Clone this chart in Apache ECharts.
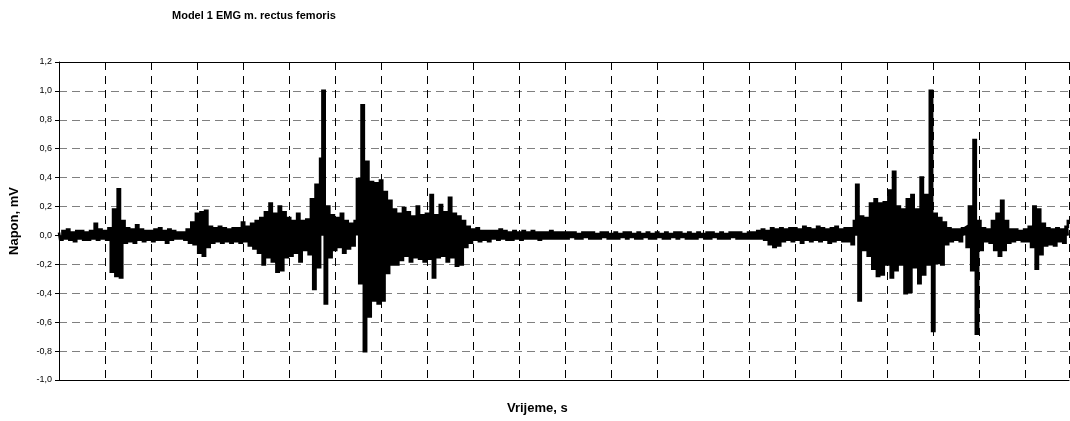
<!DOCTYPE html>
<html>
<head>
<meta charset="utf-8">
<script src="https://cdn.jsdelivr.net/npm/echarts@6/dist/echarts.min.js"></script>
<style>
html, body { margin: 0; padding: 0; background: #fff; }
#emg { width: 1070px; height: 421px; }
</style>
</head>
<body>
<div id="emg"></div>
<script>
// razmak uzoraka na vremenskoj osi (jedinica = jedan stupac mreže)
var korak = 0.05;

// EMG signal, mV - očitano sa slike, po dijelovima
var pocetak = [
    0.02,-0.03,0.03,-0.02,0.04,-0.03,0.02,-0.04,0.03,-0.02,0.03,-0.03,0.02,-0.03,0.03,-0.02,0.08,-0.03,0.04,-0.02,
    0.03,-0.03,0.05,-0.25,0.18,-0.28,0.32,-0.29,0.1,-0.05,0.05,-0.04,0.04,-0.05,0.07,-0.03,0.04,-0.04,0.03,-0.03,
    0.03,-0.04,0.04,-0.03,0.05,-0.03,0.03,-0.05,0.04,-0.03,0.03,-0.02,0.02,-0.02,0.02,-0.03,0.04,-0.05,0.09,-0.06,
    0.15,-0.12,0.16,-0.14,0.17,-0.08,0.06,-0.05,0.05,-0.04,0.06,-0.05,0.05,-0.04,0.04,-0.05,0.05,-0.04,0.05,-0.05
];
var prviNapor = [
    0.09,-0.04,0.06,-0.07,0.08,-0.09,0.1,-0.12,0.12,-0.2,0.16,-0.15,0.22,-0.18,0.15,-0.25,0.2,-0.24,0.16,-0.15,
    0.12,-0.14,0.1,-0.12,0.15,-0.18,0.1,-0.1,0.11,-0.13,0.25,-0.37,0.35,-0.22,0.53,1.0,-0.47,0.2,-0.15,0.14,
    -0.1,0.12,-0.08,0.15,-0.12,0.1,-0.09,0.08,-0.07,0.1,0.39,-0.33,0.9,-0.8,0.51,-0.56,0.37,-0.45,0.36,-0.47,
    0.38,-0.45,0.3,-0.26,0.24,-0.2,0.18,-0.2,0.15,-0.17,0.19,-0.14,0.16,-0.18,0.13,-0.15,0.2,-0.16,0.14,-0.18,
    0.15,-0.16,0.28,-0.29,0.14,-0.15,0.21,-0.14,0.16,-0.18,0.26,-0.15,0.15,-0.21,0.13,-0.2,0.1,-0.08,0.06,-0.05
];
var mirovanje = [
    0.04,-0.03,0.05,-0.04,0.03,-0.03,0.03,-0.04,0.03,-0.02,0.03,-0.03,0.04,-0.02,0.03,-0.03,0.02,-0.03,0.03,-0.02,
    0.02,-0.03,0.03,-0.02,0.02,-0.02,0.03,-0.02,0.02,-0.03,0.02,-0.02,0.02,-0.02,0.03,-0.02,0.02,-0.02,0.02,-0.02,
    0.02,-0.02,0.02,-0.01,0.02,-0.02,0.01,-0.02,0.02,-0.01,0.02,-0.02,0.02,-0.02,0.01,-0.02,0.02,-0.01,0.02,-0.02,
    0.01,-0.02,0.02,-0.02,0.01,-0.01,0.02,-0.02,0.02,-0.01,0.01,-0.02,0.02,-0.02,0.01,-0.01,0.02,-0.02,0.01,-0.02,
    0.02,-0.01,0.01,-0.02,0.02,-0.02,0.01,-0.01,0.02,-0.02,0.02,-0.01,0.01,-0.02,0.02,-0.02,0.01,-0.02,0.02,-0.01,
    0.01,-0.02,0.02,-0.02,0.02,-0.01,0.01,-0.02,0.02,-0.02,0.01,-0.02,0.02,-0.01,0.02,-0.02,0.02,-0.02,0.01,-0.02,
    0.02,-0.02,0.02,-0.02,0.03,-0.02,0.04,-0.03,0.03,-0.06,0.05,-0.08,0.04,-0.07,0.05,-0.04,0.04,-0.03,0.05,-0.04,
    0.05,-0.03,0.04,-0.05,0.06,-0.03,0.05,-0.04,0.04,-0.03,0.06,-0.04,0.05,-0.03,0.04,-0.05,0.05,-0.04,0.06,-0.03
];
var drugiNapor = [
    0.04,-0.04,0.05,-0.04,0.05,-0.06,0.1,0.35,-0.45,0.13,-0.1,0.12,-0.14,0.22,-0.23,0.25,-0.28,0.22,-0.27,0.23,
    -0.2,0.31,-0.29,0.44,-0.24,0.2,-0.2,0.18,-0.4,0.25,-0.39,0.28,-0.22,0.18,-0.33,0.4,-0.27,0.28,-0.2,1.0,
    -0.66,0.15,-0.19,0.12,-0.2,0.09,-0.06,0.05,-0.04,0.04,-0.03,0.04,-0.04,0.05,0.06,-0.08,0.2,-0.24,0.66,-0.68,
    0.1,-0.1,0.05,-0.04,0.04,-0.05,0.1,-0.1,0.15,-0.14,0.24,-0.1,0.1,-0.05,0.04,-0.04,0.04,-0.03,0.03,-0.04,
    0.04,-0.04,0.06,-0.08,0.2,-0.23,0.18,-0.13,0.08,-0.07,0.05,-0.06,0.04,-0.07,0.05,-0.04,0.04,-0.05,0.06,0.1
];

var napon = pocetak.concat(prviNapor, mirovanje, drugiNapor);
var signal = napon.map(function (v, i) { return [i * korak, v]; });

var chart = echarts.init(document.getElementById('emg'));
var font = '"Liberation Sans", Arial, sans-serif';

var option = {
    animation: false,
    backgroundColor: '#fff',
    title: [{
        text: 'Model 1 EMG m. rectus femoris',
        left: 167,
        top: 5,
        textStyle: { fontSize: 11, fontWeight: 'bold', color: '#000', fontFamily: font }
    }, {
        text: 'Vrijeme, s',
        left: 502,
        top: 397,
        textStyle: { fontSize: 13, fontWeight: 'bold', color: '#000', fontFamily: font }
    }],
    grid: { left: 59, right: 1, top: 62, bottom: 41 },
    xAxis: [{
        type: 'value',
        min: 0,
        max: (napon.length - 1) * korak,
        interval: 1,
        axisLine: { show: true, onZero: false, lineStyle: { color: '#000', width: 1 } },
        axisTick: { show: false },
        axisLabel: { show: false },
        splitLine: { show: true, lineStyle: { color: '#000', width: 1, type: [8, 6] } }
    }, {
        type: 'value',
        position: 'top',
        min: 0,
        max: (napon.length - 1) * korak,
        axisLine: { show: true, onZero: false, lineStyle: { color: '#000', width: 1 } },
        axisTick: { show: false },
        axisLabel: { show: false },
        splitLine: { show: false }
    }],
    yAxis: {
        type: 'value',
        min: -1.0,
        max: 1.2,
        interval: 0.2,
        name: 'Napon, mV',
        nameLocation: 'middle',
        nameGap: 38,
        nameTextStyle: { fontSize: 13, fontWeight: 'bold', color: '#000', fontFamily: font },
        axisLine: { show: true, lineStyle: { color: '#000', width: 1 } },
        axisTick: { show: true, inside: false, length: 4, lineStyle: { color: '#000' } },
        axisLabel: {
            color: '#000',
            fontSize: 9,
            fontFamily: font,
            margin: 7,
            formatter: function (v) { return v.toFixed(1).replace('.', ','); }
        },
        splitLine: { show: true, lineStyle: { color: '#808080', width: 1, type: [8, 5] } }
    },
    series: [{
        type: 'line',
        data: signal,
        step: 'middle',
        showSymbol: false,
        symbol: 'none',
        sampling: false,
        lineStyle: { color: '#000', width: 2.6, join: 'miter' },
        areaStyle: { color: '#000', opacity: 1, origin: 0 },
        z: 5
    }]
};

chart.setOption(option);
</script>
</body>
</html>
